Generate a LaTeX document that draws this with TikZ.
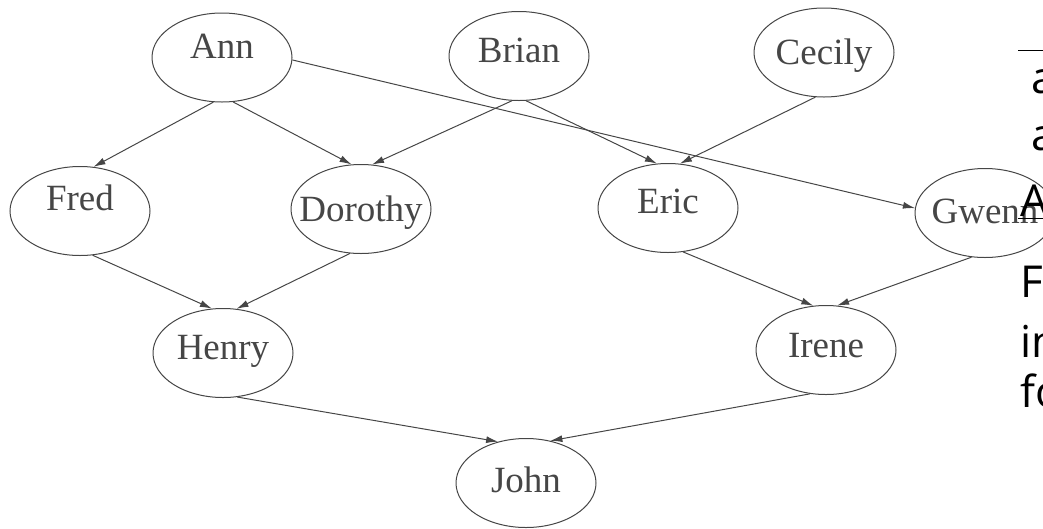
\documentclass[tikz,border=0pt]{standalone}
\usepackage{fontspec}
\setmainfont{Liberation Serif}
\newfontfamily\slidefont{Open Sans}
\usetikzlibrary{shapes.geometric,arrows.meta}
\definecolor{ink}{RGB}{70,70,70}
\tikzset{person/.style={ellipse, draw, minimum width=140pt, minimum height=89pt, inner xsep=-14pt, inner ysep=0pt,
    font=\fontsize{37}{42}\selectfont, text height=24pt, text depth=0pt},
  parent/.style={-{Latex[length=12pt,width=7pt]}},
  slide/.style={anchor=base west, inner sep=0pt, text=black, font=\slidefont\fontsize{44}{50}\selectfont}}

\begin{document}
\begin{tikzpicture}[x=1pt,y=-1pt,ink,line width=1pt]
  \clip (0,0) rectangle (1043,528);
  \node[person, text depth=22pt] (ann)     at (222,57.5) {Ann};
  \node[person, text depth=12pt] (brian)   at (519,56)   {Brian};
  \node[person]                  (cecily)  at (824,52.5) {Cecily};
  \node[person, text depth=26pt] (fred)    at (80,211)   {Fred};
  \node[person]                  (dorothy) at (361,209)  {Dorothy};
  \node[person, text depth=14pt] (eric)    at (668,208)  {Eric};
  \node[person, text depth=4pt]  (gwenn)   at (985,213)  {Gwenn};
  \node[person, text depth=11pt] (henry)   at (223,353)  {Henry};
  \node[person, text depth=9pt]  (irene)   at (826,350)  {Irene};
  \node[person, text depth=6pt]  (john)    at (526,483)  {John};

  \draw[parent] (ann.259)    -- (fred.73);
  \draw[parent] (ann.284)    -- (dorothy.102);
  \draw[parent] (ann.358)    -- (gwenn.176);
  \draw[parent] (brian.261)  -- (dorothy.76);
  \draw[parent] (brian.279)  -- (eric.104);
  \draw[parent] (cecily.259) -- (eric.75);
  \draw[parent] (fred.286)   -- (henry.104);
  \draw[parent] (dorothy.256) -- (henry.73);
  \draw[parent] (eric.289)   -- (irene.106);
  \draw[parent] (gwenn.253)  -- (irene.76);
  \draw[parent] (henry.288)  -- (john.124);
  \draw[parent] (irene.250)  -- (john.60);

  \draw[black] (1018,50) -- (1043,50);
  \node[slide] (t1) at (1031,93)  {a};
  \node[slide] (t2) at (1031,150) {a};
  \node[slide] (t3) at (1020,216) {A};
  \draw[black] (1018,218) -- (1043,218);
  \node[slide] (t4) at (1020,297) {F};
  \node[slide] (t5) at (1020,357) {in};
  \node[slide] (t6) at (1020,407) {fo};
\end{tikzpicture}
\end{document}
